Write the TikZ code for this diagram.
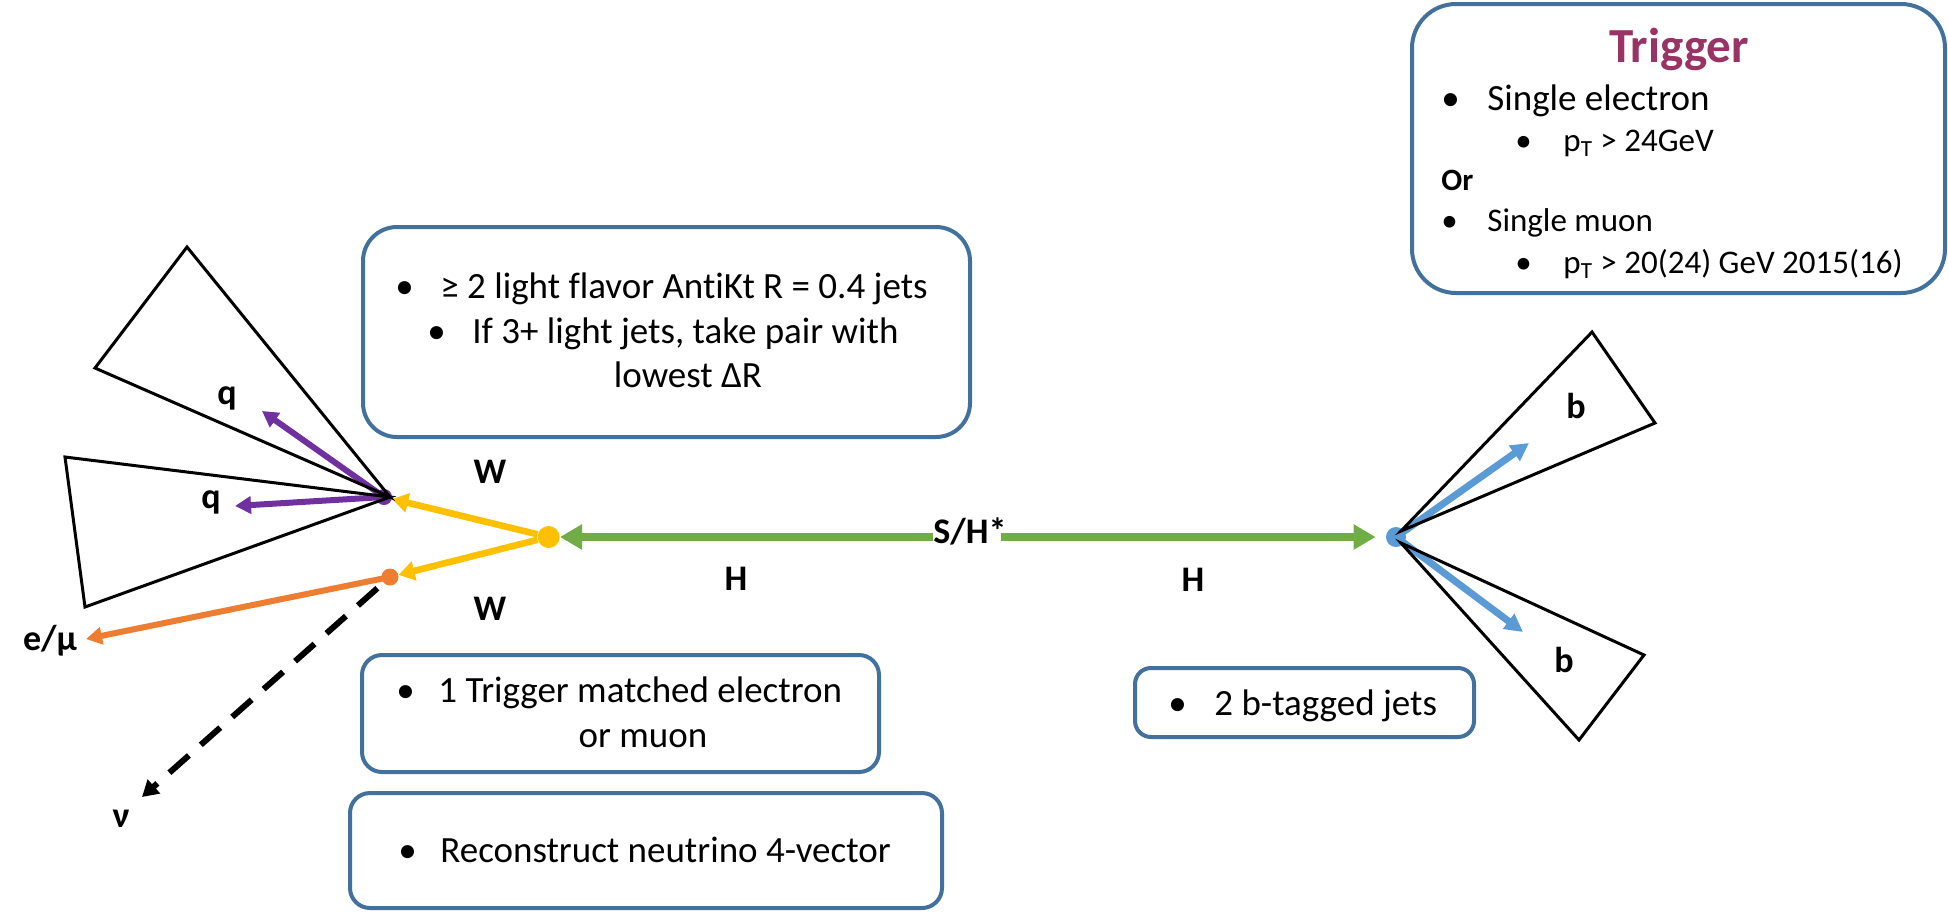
\documentclass[tikz,border=0pt]{standalone}
\usepackage{fontspec}
\setmainfont{Carlito}[Ligatures={NoCommon}]
\usetikzlibrary{arrows.meta}
\definecolor{cgreen}{HTML}{70AD47}
\definecolor{cyellow}{HTML}{FFC000}
\definecolor{cpurple}{HTML}{7030A0}
\definecolor{corange}{HTML}{ED7D31}
\definecolor{cblue}{HTML}{5B9BD5}
\definecolor{cbox}{HTML}{41719C}
\definecolor{ctitle}{HTML}{993366}
\newcommand\fA{\fontsize{18.5pt}{22pt}\selectfont}
\newcommand\fB{\fontsize{16.5pt}{20pt}\selectfont}
\newcommand\fOr{\fontsize{15.5pt}{19pt}\selectfont\bfseries}
\newcommand\fL{\fontsize{18pt}{22pt}\selectfont\bfseries}
\newcommand\fT{\fontsize{24.5pt}{29pt}\selectfont\bfseries}
\begin{document}
\begin{tikzpicture}[x=0.5pt,y=-0.5pt,
  box/.style={draw=cbox,line width=2pt,rounded corners=#1,inner sep=0pt},
  box/.default=10pt,
  txt/.style={anchor=base west,inner sep=0pt,font=\fA},
  ctxt/.style={anchor=base,inner sep=0pt,font=\fA},
  lbl/.style={anchor=base,inner sep=0pt,font=\fL},
  dot/.style={circle,inner sep=0pt,draw=none},
  cone/.style={draw=black,line width=1.5pt,line join=miter},
  garrow/.style={draw=cgreen,line width=3.8pt,-{Triangle[length=11pt,width=12pt]}},
  yarrow/.style={draw=cyellow,line width=3.3pt,-{Triangle[length=8pt,width=9.5pt]}},
  parrow/.style={draw=cpurple,line width=3pt,-{Triangle[length=8pt,width=8.5pt]}},
  oarrow/.style={draw=corange,line width=3pt,-{Triangle[length=8pt,width=8.5pt]}},
  barrow/.style={draw=cblue,line width=3.5pt,-{Triangle[length=9pt,width=9pt]}},
  nuarrow/.style={draw=black,line width=3pt,dash pattern=on 13pt off 8pt,-{Triangle[length=8pt,width=9pt]}}
]
\useasboundingbox (0,0) rectangle (1948,911);

% ---- boxes ----
\node[box=22pt,minimum width=266.5pt,minimum height=144.5pt] (trig) at (1678.5,148.5) {};
\node[anchor=base,inner sep=0pt,font=\fT,text=ctitle] (ttl) at (1679,62) {Trigger};
\node[txt] (tb1) at (1441,110) {•};
\node[txt] (tt1) at (1487,110) {Single electron};
\node[txt,font=\fB] (tb2) at (1515,151) {•};
\node[txt,font=\fB] (tt2) at (1563,151) {p\textsubscript{T} > 24GeV};
\node[txt,font=\fOr] (tor) at (1441,190) {Or};
\node[txt,font=\fB] (tb3) at (1441,231) {•};
\node[txt,font=\fB] (tt3) at (1487,231) {Single muon};
\node[txt,font=\fB] (tb4) at (1515,273) {•};
\node[txt,font=\fB] (tt4) at (1563,273) {p\textsubscript{T} > 20(24) GeV 2015(16)};

\node[box=17pt,minimum width=303.5pt,minimum height=105pt] (jbox) at (666.5,332) {};
\node[txt] (jb1) at (395,298) {•};
\node[txt] (jt1) at (440,298) {≥ 2 light flavor AntiKt R = 0.4 jets};
\node[txt] (jb2) at (427,343) {•};
\node[txt] (jt2) at (472,343) {If 3+ light jets, take pair with};
\node[ctxt] (jt3) at (688,387) {lowest ΔR};

\node[box=10pt,minimum width=258.5pt,minimum height=58.5pt] (lbox) at (620.5,713.5) {};
\node[txt] (lb1) at (396,702) {•};
\node[txt] (lt1) at (438,702) {1 Trigger matched electron};
\node[ctxt] (lt2) at (643,747) {or muon};

\node[box=10pt,minimum width=296pt,minimum height=57.5pt] (nbox) at (646,850.5) {};
\node[txt] (nb1) at (398,862) {•};
\node[txt] (nt1) at (440,862) {Reconstruct neutrino 4-vector};

\node[box=8pt,minimum width=169.5pt,minimum height=34.5pt] (bbox) at (1304.5,702.5) {};
\node[txt] (bb1) at (1168,715) {•};
\node[txt] (bt1) at (1214,715) {2 b-tagged jets};

% ---- vertices ----
\node[dot,fill=cyellow,minimum size=11pt] (ydot) at (548.6,537) {};
\node[dot,fill=cpurple,minimum size=8pt] (pdot) at (384,497) {};
\node[dot,fill=corange,minimum size=8.5pt] (odot) at (390,577) {};
\node[dot,fill=cblue,minimum size=10pt] (bdot) at (1396,537) {};

% ---- labels ----
\node[lbl] (sh) at (970,543) {S/H*};
\node[lbl] (hl) at (736,590) {H};
\node[lbl] (hr) at (1193,591) {H};
\node[lbl] (wu) at (490,483) {W};
\node[lbl] (wd) at (490,620) {W};
\node[lbl] (q1) at (227,404) {q};
\node[lbl] (q2) at (211,508) {q};
\node[lbl] (el) at (50,650) {e/μ};
\node[lbl] (nu) at (121,827) {ν};
\node[lbl] (b1) at (1576,418) {b};
\node[lbl] (b2) at (1564,672) {b};

% ---- free ends ----
\coordinate (q1tip) at (262,411);
\coordinate (q2tip) at (235,506);
\coordinate (etip) at (86,639);
\coordinate (nutip) at (142,797);
\coordinate (b1tip) at (1529,443);
\coordinate (b2tip) at (1523,632);

% ---- arrows ----
\draw[garrow] (sh.west |- ydot) -- (ydot);
\draw[garrow,shorten >=5pt] ([xshift=-3pt]sh.east |- bdot) -- (bdot);
\draw[yarrow] (ydot) -- (pdot);
\draw[yarrow] (ydot) -- (odot);
\draw[parrow] (pdot.center) -- (q1tip);
\draw[parrow] (pdot.center) -- (q2tip);
\draw[oarrow] (odot.center) -- (etip);
\draw[nuarrow,shorten <=4pt] (odot) -- (nutip);
\draw[barrow] (bdot.center) -- (b1tip);
\draw[barrow] (bdot.center) -- (b2tip);

% ---- jet cones ----
\draw[cone] (390,497) -- (187,247) -- (95,368) -- cycle;
\draw[cone] (390,497) -- (65,457) -- (85,607) -- cycle;
\draw[cone] (1401,531) -- (1592,332) -- (1655,423) -- cycle;
\draw[cone] (1401,543) -- (1644,655) -- (1579,740) -- cycle;
\end{tikzpicture}
\end{document}
